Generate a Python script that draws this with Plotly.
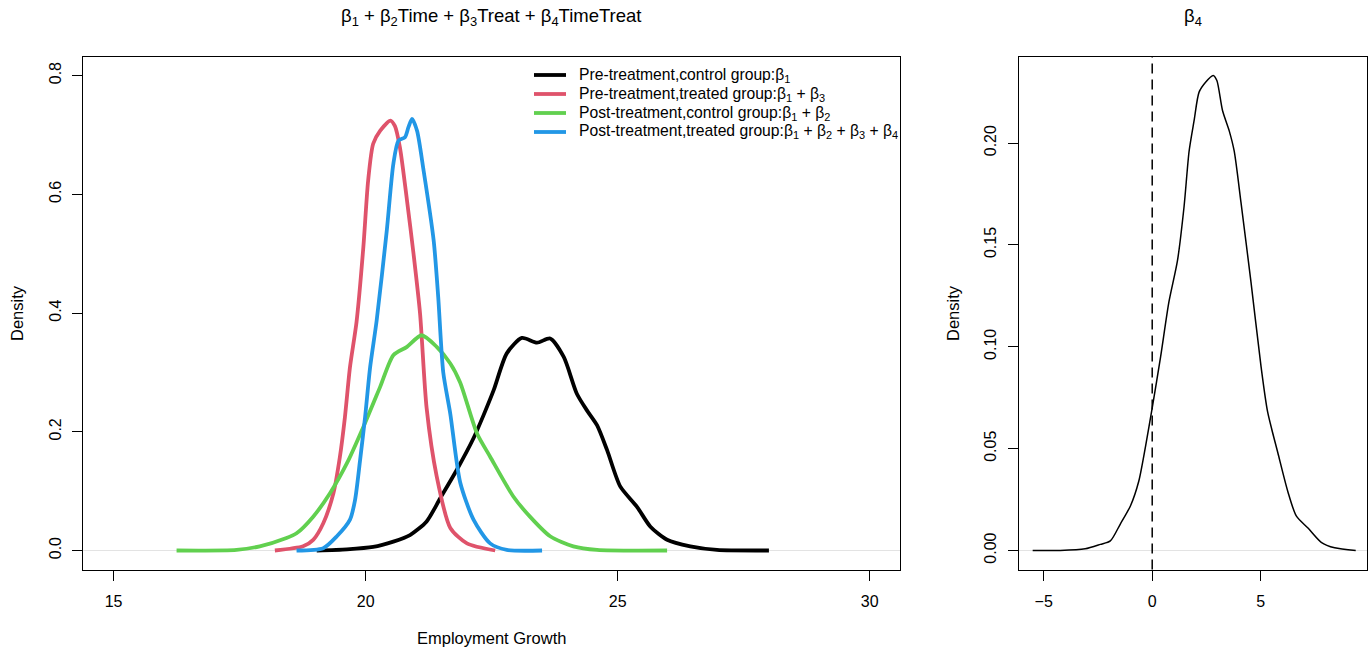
import plotly.graph_objects as go

W, H = 1369, 652

# ---------------- data ----------------
series_names = [
    "Pre-treatment,control group:β<sub>1</sub>",
    "Pre-treatment,treated group:β<sub>1</sub> + β<sub>3</sub>",
    "Post-treatment,control group:β<sub>1</sub> + β<sub>2</sub>",
    "Post-treatment,treated group:β<sub>1</sub> + β<sub>2</sub> + β<sub>3</sub> + β<sub>4</sub>",
]
series_colors = ["#000000", "#DF536B", "#61D04F", "#2297E6"]

pre_control_x = [19.03, 19.63, 20.15, 20.55, 20.88, 21.21, 21.48, 21.81, 22.14, 22.34, 22.54,
                 22.80, 23.10, 23.40, 23.66, 23.93, 24.19, 24.39, 24.59, 24.79, 25.05, 25.38,
                 25.65, 25.98, 26.44, 26.97, 28.00]
pre_control_y = [0.000, 0.002, 0.006, 0.015, 0.026, 0.049, 0.088, 0.136, 0.189, 0.228, 0.270,
                 0.332, 0.358, 0.350, 0.357, 0.326, 0.264, 0.236, 0.211, 0.169, 0.108, 0.074,
                 0.040, 0.018, 0.007, 0.001, 0.000]

pre_treated_x = [18.20, 18.76, 18.96, 19.16, 19.36, 19.49, 19.59, 19.69, 19.82, 19.955, 20.05,
                 20.15, 20.29, 20.49, 20.58, 20.68, 20.82, 20.95, 21.08, 21.21, 21.41, 21.68,
                 22.01, 22.57]
pre_treated_y = [0.000, 0.007, 0.018, 0.046, 0.096, 0.158, 0.225, 0.309, 0.385, 0.511, 0.623,
                 0.685, 0.707, 0.724, 0.715, 0.679, 0.590, 0.500, 0.399, 0.240, 0.125, 0.038,
                 0.012, 0.000]

post_control_x = [16.25, 17.44, 17.90, 18.43, 18.63, 18.96, 19.29, 19.63, 19.955, 20.29, 20.55,
                  20.82, 21.11, 21.41, 21.68, 21.875, 22.21, 22.47, 22.93, 23.26, 23.66, 24.12,
                  24.59, 25.98]
post_control_y = [0.000, 0.001, 0.007, 0.021, 0.029, 0.057, 0.096, 0.147, 0.208, 0.276, 0.329,
                  0.343, 0.3625, 0.343, 0.315, 0.283, 0.197, 0.158, 0.091, 0.057, 0.024, 0.007,
                  0.001, 0.000]

post_treated_x = [18.63, 19.16, 19.43, 19.69, 19.79, 19.89, 19.99, 20.09, 20.22, 20.42, 20.55,
                  20.65, 20.78, 20.85, 20.92, 21.02, 21.15, 21.35, 21.44, 21.54, 21.68, 21.875,
                  22.14, 22.47, 22.80, 23.50]
post_treated_y = [0.000, 0.004, 0.024, 0.052, 0.085, 0.152, 0.225, 0.309, 0.388, 0.539, 0.651,
                  0.690, 0.696, 0.713, 0.727, 0.707, 0.640, 0.522, 0.427, 0.300, 0.230, 0.115,
                  0.052, 0.012, 0.001, 0.000]

beta4_x = [-5.51, -4.24, -3.09, -2.39, -1.93, -1.47, -1.00, -0.62, -0.31, 0.00, 0.386, 0.77,
           1.16, 1.47, 1.70, 1.93, 2.16, 2.47, 2.81, 2.98, 3.24, 3.55, 3.78, 4.09, 4.55, 5.02,
           5.32, 5.79, 6.25, 6.64, 7.18, 7.79, 8.41, 9.38]
beta4_y = [0.000, 0.000, 0.0008, 0.003, 0.0047, 0.013, 0.022, 0.034, 0.051, 0.070, 0.095, 0.122,
           0.142, 0.169, 0.196, 0.211, 0.225, 0.230, 0.2332, 0.2307, 0.216, 0.206, 0.196, 0.171,
           0.132, 0.090, 0.068, 0.048, 0.029, 0.017, 0.011, 0.004, 0.0013, 0.000]

left_xticks = [15, 20, 25, 30]
left_yticks = [0.0, 0.2, 0.4, 0.6, 0.8]
left_ytick_text = ["0.0", "0.2", "0.4", "0.6", "0.8"]
right_xticks = [-5, 0, 5]
right_yticks = [0.00, 0.05, 0.10, 0.15, 0.20]
right_ytick_text = ["0.00", "0.05", "0.10", "0.15", "0.20"]

left_title = "β<sub>1</sub> + β<sub>2</sub>Time + β<sub>3</sub>Treat + β<sub>4</sub>TimeTreat"
right_title = "β<sub>4</sub>"
x_label = "Employment Growth"
y_label = "Density"

# ---------------- figure ----------------
FONT = "Liberation Sans, Arial, Helvetica, sans-serif"

fig = go.Figure()
left_series = [
    (pre_control_x, pre_control_y),
    (pre_treated_x, pre_treated_y),
    (post_control_x, post_control_y),
    (post_treated_x, post_treated_y),
]
for (xs, ys), name, col in zip(left_series, series_names, series_colors):
    fig.add_trace(go.Scatter(
        x=xs, y=ys, mode="lines", name=name,
        line=dict(color=col, width=3.8, shape="spline", smoothing=0.7),
        xaxis="x", yaxis="y", showlegend=False))

fig.add_trace(go.Scatter(
    x=beta4_x, y=beta4_y, mode="lines", name="beta4",
    line=dict(color="#000000", width=1.5, shape="spline", smoothing=0.7),
    xaxis="x2", yaxis="y2", showlegend=False))

# panel geometry (pixels -> paper)
L1, R1, L2, R2 = 83.3, 900.0, 1019.0, 1367.0
TOP, BOT = 56.5, 569.5
px = lambda v: v / W
py = lambda v: 1 - v / H

axis_common = dict(showgrid=False, zeroline=False, showline=True, mirror=True,
                   linecolor="#000000", linewidth=1.2, ticks="outside", ticklen=10,
                   tickwidth=1.2, tickcolor="#000000",
                   tickfont=dict(family=FONT, size=16, color="#000000"))

fig.update_layout(
    width=W, height=H,
    margin=dict(l=0, r=0, t=0, b=0),
    paper_bgcolor="white", plot_bgcolor="white",
    font=dict(family=FONT, color="#000000"),
    xaxis=dict(domain=[px(L1), px(R1)], range=[14.4, 30.6], tickvals=left_xticks,
               anchor="y", ticklabelstandoff=7, **axis_common),
    yaxis=dict(domain=[py(BOT), py(TOP)], range=[-0.032, 0.832], tickvals=left_yticks,
               ticktext=left_ytick_text, tickangle=-90, anchor="x", ticklabelstandoff=5,
               **axis_common),
    xaxis2=dict(domain=[px(L2), px(R2)], range=[-6.14, 9.90], tickvals=right_xticks,
                anchor="y2", ticklabelstandoff=7, **axis_common),
    yaxis2=dict(domain=[py(BOT), py(TOP)], range=[-0.00933, 0.2425], tickvals=right_yticks,
                ticktext=right_ytick_text, tickangle=-90, anchor="x2", ticklabelstandoff=6,
                **axis_common),
    showlegend=False,
)

# zero lines (density baseline) and dashed reference line at 0
fig.add_shape(type="line", xref="x domain", yref="y", x0=0, x1=1, y0=0, y1=0,
              line=dict(color="#e3e3e3", width=1), layer="below")
fig.add_shape(type="line", xref="x2 domain", yref="y2", x0=0, x1=1, y0=0, y1=0,
              line=dict(color="#e3e3e3", width=1), layer="below")
fig.add_shape(type="line", xref="x2", yref="y2 domain", x0=0, x1=0, y0=0, y1=1,
              line=dict(color="#000000", width=1.5, dash="10px,6px"))

# legend (drawn inside the left panel, no box)
LEG_X0, LEG_X1, LEG_TX, LEG_Y0, LEG_DY = 534, 566, 577, 75, 19
for i, (name, col) in enumerate(zip(series_names, series_colors)):
    yy = LEG_Y0 + i * LEG_DY
    fig.add_shape(type="line", xref="paper", yref="paper",
                  x0=px(LEG_X0), x1=px(LEG_X1), y0=py(yy), y1=py(yy),
                  line=dict(color=col, width=3.8))
    fig.add_annotation(text=name, x=px(LEG_TX), y=py(yy), xref="paper", yref="paper",
                       xanchor="left", yanchor="middle", showarrow=False,
                       font=dict(family=FONT, size=15.7, color="#000000"))

# titles and axis labels
ann = dict(showarrow=False, font=dict(family=FONT, size=18.5, color="#000000"))
fig.add_annotation(text=left_title, x=px((L1 + R1) / 2), y=py(17), xref="paper", yref="paper",
                   xanchor="center", yanchor="middle", **ann)
fig.add_annotation(text=right_title, x=px((L2 + R2) / 2), y=py(17), xref="paper", yref="paper",
                   xanchor="center", yanchor="middle", **ann)
lab = dict(showarrow=False, font=dict(family=FONT, size=16.5, color="#000000"))
fig.add_annotation(text=x_label, x=px((L1 + R1) / 2), y=py(638), xref="paper", yref="paper",
                   xanchor="center", yanchor="middle", **lab)
fig.add_annotation(text=y_label, x=px(17), y=py((TOP + BOT) / 2), xref="paper", yref="paper",
                   textangle=-90, xanchor="center", yanchor="middle", **lab)
fig.add_annotation(text=y_label, x=px(953), y=py((TOP + BOT) / 2), xref="paper", yref="paper",
                   textangle=-90, xanchor="center", yanchor="middle", **lab)

fig.write_html("out.html")
